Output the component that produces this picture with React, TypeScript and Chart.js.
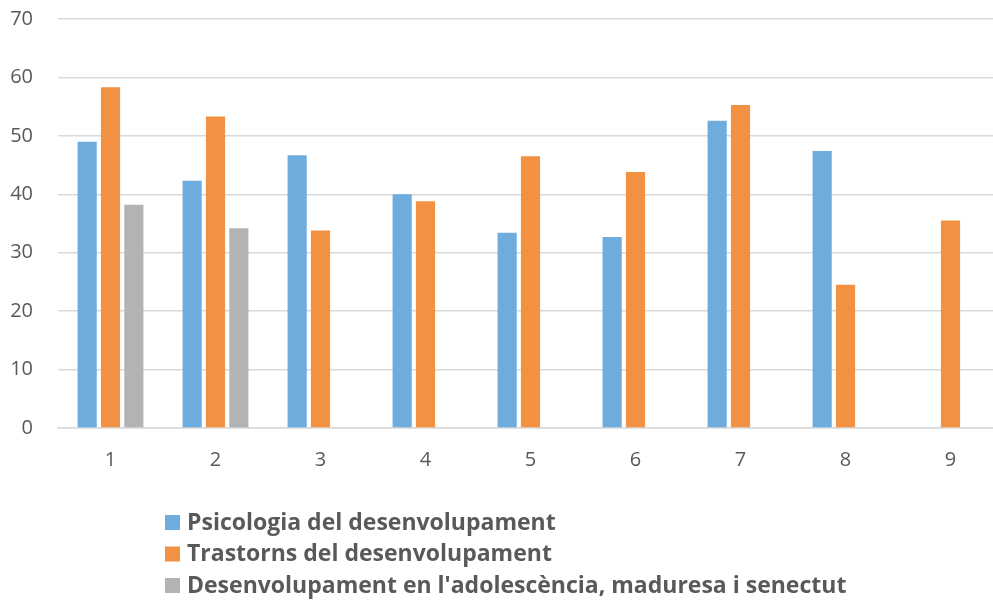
import React, { useEffect, useRef } from "react";
import { Chart, registerables } from "chart.js";

Chart.register(...registerables);

const categories = ["1", "2", "3", "4", "5", "6", "7", "8", "9"];
const psicologia = [49.0, 42.3, 46.7, 40.0, 33.4, 32.7, 52.6, 47.4, null];
const trastorns = [58.3, 53.3, 33.8, 38.8, 46.5, 43.8, 55.3, 24.5, 35.5];
const adolescencia = [38.2, 34.2, null, null, null, null, null, null, null];
const seriesNames = [
  "Psicologia del desenvolupament",
  "Trastorns del desenvolupament",
  "Desenvolupament en l'adolescència, maduresa i senectut",
];
const yTicks = [0, 10, 20, 30, 40, 50, 60, 70];

const COLORS = ["rgb(109,172,221)", "rgb(242,145,65)", "rgb(179,179,179)"];
const TEXT = "#595959";
const FONT = "'Open Sans', 'Noto Sans', sans-serif";

const legendPlugin = {
  id: "vertLegend",
  afterDraw(chart: any) {
    const ctx = chart.ctx;
    ctx.save();
    ctx.font = `bold 23px ${FONT}`;
    ctx.textBaseline = "middle";
    ctx.textAlign = "left";
    chart.data.datasets.forEach((ds: any, i: number) => {
      const cy = 522 + i * 31.5;
      ctx.fillStyle = ds.backgroundColor;
      ctx.fillRect(165, cy - 7, 15, 15);
      ctx.fillStyle = TEXT;
      ctx.fillText(ds.label, 187, cy + 1);
    });
    ctx.restore();
  },
};

export default function App() {
  const ref = useRef<HTMLCanvasElement>(null);
  useEffect(() => {
    if (!ref.current) return;
    const chart = new Chart(ref.current, {
      type: "bar",
      data: {
        labels: categories,
        datasets: [
          { label: seriesNames[0], data: psicologia, backgroundColor: COLORS[0] },
          { label: seriesNames[1], data: trastorns, backgroundColor: COLORS[1] },
          { label: seriesNames[2], data: adolescencia, backgroundColor: COLORS[2] },
        ],
      },
      options: {
        animation: false,
        responsive: false,
        maintainAspectRatio: false,
        layout: { padding: { top: 19, bottom: 110, left: 0, right: 0 } },
        datasets: {
          bar: { categoryPercentage: 0.667, barPercentage: 0.82 },
        },
        plugins: {
          legend: { display: false },
          tooltip: { enabled: false },
        },
        scales: {
          x: {
            grid: { display: false, drawTicks: false },
            border: { display: true, color: "#d9d9d9", width: 1.5 },
            ticks: { color: TEXT, font: { family: FONT, size: 20 }, padding: 20 },
            afterFit: (s: any) => {
              s.height = 62;
            },
          },
          y: {
            min: 0,
            max: 70,
            afterBuildTicks: (s: any) => {
              s.ticks = yTicks.map((v) => ({ value: v }));
            },
            grid: { color: "#d9d9d9", lineWidth: 1.5, drawTicks: false },
            border: { display: false },
            ticks: { color: TEXT, font: { family: FONT, size: 20 }, padding: 25 },
            afterFit: (s: any) => {
              s.width = 58;
              s.paddingTop = 0;
              s.paddingBottom = 0;
            },
          },
        },
      },
      plugins: [legendPlugin],
    });
    return () => chart.destroy();
  }, []);
  return (
    <div
      style={{
        position: "fixed",
        left: 0,
        top: 0,
        width: 993,
        height: 600,
        overflow: "hidden",
        background: "#fff",
      }}
    >
      <canvas ref={ref} width={1003} height={600} style={{ display: "block" }} />
    </div>
  );
}
